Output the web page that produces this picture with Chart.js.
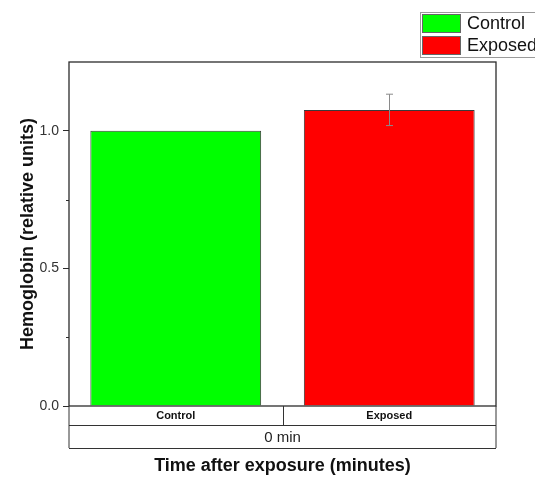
<!DOCTYPE html>
<html>
<head>
<meta charset="utf-8">
<script src="https://cdn.jsdelivr.net/npm/chart.js@4/dist/chart.umd.min.js"></script>
<style>
  body { margin: 0; background: #fff; }
  canvas { display: block; }
</style>
</head>
<body>
<canvas id="hbChart" width="535" height="477"></canvas>
<script>
// group values
const categories = ['Control', 'Exposed'];
const hemoglobin = [1.0, 1.076];
const hbError = [0, 0.057];
const barColors = ['#00ff00', '#ff0000'];
const groupLabel = '0 min';
const yTicks = [0, 0.5, 1.0];
const yMinorTicks = [0.25, 0.75];

const FONT = '"Liberation Sans", Arial, sans-serif';

// one dataset per group so the legend gets two entries
const datasets = categories.map((name, i) => ({
  label: name,
  data: categories.map((_, j) => (j === i ? hemoglobin[i] : null)),
  backgroundColor: barColors[i],
  borderColor: '#3a3a3a',
  borderWidth: 1,
  categoryPercentage: 1.0,
  barPercentage: 0.8
}));

// frame, minor ticks, category table, error bars, legend box
const decorations = {
  id: 'decorations',
  afterDatasetsDraw(chart) {
    const ctx = chart.ctx;
    const x = chart.scales.x;
    const y = chart.scales.y;

    // error bars
    ctx.save();
    ctx.strokeStyle = '#8a8a8a';
    ctx.lineWidth = 1;
    hemoglobin.forEach((v, i) => {
      const err = hbError[i];
      if (!err) return;
      const cx = Math.round(x.getPixelForValue(i)) + 0.5;
      const yTop = y.getPixelForValue(v + err);
      const yBot = y.getPixelForValue(v - err);
      ctx.beginPath();
      ctx.moveTo(cx, yTop); ctx.lineTo(cx, yBot);
      ctx.moveTo(cx - 3.5, yTop); ctx.lineTo(cx + 3.5, yTop);
      ctx.moveTo(cx - 3.5, yBot); ctx.lineTo(cx + 3.5, yBot);
      ctx.stroke();
    });
    ctx.restore();
  },
  afterDraw(chart) {
    const ctx = chart.ctx;
    const area = chart.chartArea;
    const x = chart.scales.x;
    const y = chart.scales.y;
    const row1 = area.bottom + 19;
    const row2 = area.bottom + 42;

    ctx.save();
    // plot frame
    ctx.strokeStyle = '#2b2b2b';
    ctx.lineWidth = 1.3;
    ctx.strokeRect(area.left, area.top, area.right - area.left, area.bottom - area.top);

    // minor ticks on the y axis
    ctx.lineWidth = 1;
    ctx.beginPath();
    yMinorTicks.forEach(v => {
      const py = Math.round(y.getPixelForValue(v)) + 0.5;
      ctx.moveTo(area.left - 3, py); ctx.lineTo(area.left, py);
    });
    ctx.stroke();

    // category table under the axis
    const mid = (x.getPixelForValue(0) + x.getPixelForValue(1)) / 2;
    ctx.strokeStyle = '#333';
    ctx.lineWidth = 1;
    ctx.beginPath();
    ctx.moveTo(area.left, row1 + 0.5); ctx.lineTo(area.right, row1 + 0.5);
    ctx.moveTo(area.left, row2 + 0.5); ctx.lineTo(area.right, row2 + 0.5);
    ctx.moveTo(area.left, area.bottom); ctx.lineTo(area.left, row2);
    ctx.moveTo(area.right, area.bottom); ctx.lineTo(area.right, row2);
    ctx.moveTo(Math.round(mid) + 0.5, area.bottom); ctx.lineTo(Math.round(mid) + 0.5, row1);
    ctx.stroke();

    ctx.fillStyle = '#222';
    ctx.font = '15px ' + FONT;
    ctx.textAlign = 'center';
    ctx.textBaseline = 'middle';
    ctx.fillText(groupLabel, (area.left + area.right) / 2, (row1 + row2) / 2 + 1);

    // legend box
    const lx = 420, ly = 12;
    ctx.strokeStyle = '#9a9a9a';
    ctx.strokeRect(lx + 0.5, ly + 0.5, 140, 45);
    ctx.textAlign = 'left';
    ctx.font = '18px ' + FONT;
    chart.data.datasets.forEach((ds, i) => {
      const sy = ly + 2 + i * 22;
      ctx.fillStyle = ds.backgroundColor;
      ctx.fillRect(lx + 2, sy, 39, 19);
      ctx.strokeStyle = '#666';
      ctx.strokeRect(lx + 2.5, sy + 0.5, 38, 18);
      ctx.fillStyle = '#111';
      ctx.fillText(ds.label, lx + 47, sy + 10);
    });
    ctx.restore();
  }
};

new Chart(document.getElementById('hbChart'), {
  type: 'bar',
  data: { labels: categories, datasets: datasets },
  options: {
    responsive: false,
    animation: false,
    skipNull: true,
    layout: { padding: { top: 62, right: 39, left: 0, bottom: 0 } },
    plugins: {
      legend: { display: false },
      tooltip: { enabled: false }
    },
    scales: {
      x: {
        grid: { display: false, drawTicks: false },
        border: { display: false },
        ticks: { font: { family: FONT, size: 11, weight: 'bold' }, color: '#111', padding: 3 },
        title: {
          display: true,
          text: 'Time after exposure (minutes)',
          font: { family: FONT, size: 18, weight: 'bold' },
          color: '#111',
          padding: { top: 0, bottom: 0 }
        },
        afterFit(scale) { scale.height = 71; }
      },
      y: {
        min: 0,
        max: 1.25,
        afterBuildTicks(scale) { scale.ticks = yTicks.map(v => ({ value: v })); },
        grid: { drawOnChartArea: false, drawTicks: true, tickLength: 6, color: '#2b2b2b' },
        border: { display: false },
        ticks: {
          font: { family: FONT, size: 14 },
          color: '#333',
          padding: 4,
          callback: v => v.toFixed(1)
        },
        title: {
          display: true,
          text: 'Hemoglobin (relative units)',
          font: { family: FONT, size: 18, weight: 'bold' },
          color: '#111',
          padding: { top: 17, bottom: 0 }
        },
        afterFit(scale) { scale.width = 69; }
      }
    }
  },
  plugins: [decorations]
});
</script>
</body>
</html>
